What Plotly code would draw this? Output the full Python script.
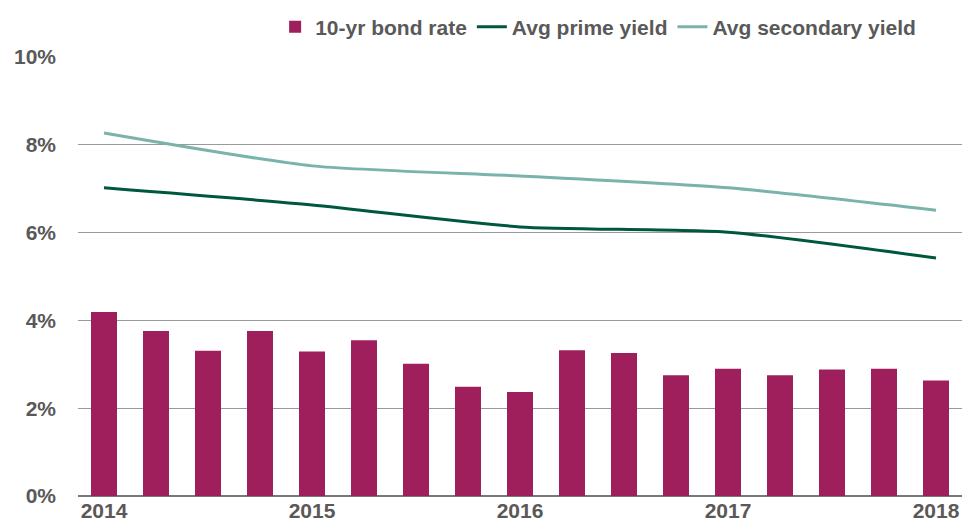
import plotly.graph_objects as go

quarters = list(range(17))
bond_rate = [4.19, 3.76, 3.31, 3.76, 3.29, 3.55, 3.01, 2.49, 2.37, 3.32, 3.26, 2.75, 2.90, 2.75, 2.88, 2.90, 2.63]
year_pos = [0, 4, 8, 12, 16]
year_labels = ["2014", "2015", "2016", "2017", "2018"]
prime_yield = [7.02, 6.63, 6.13, 6.01, 5.42]
secondary_yield = [8.27, 7.52, 7.29, 7.02, 6.51]
y_ticks = [0, 2, 4, 6, 8, 10]
y_labels = ["0%", "2%", "4%", "6%", "8%", "10%"]

font_family = "Liberation Sans, Arial, Helvetica, sans-serif"
grey = "#595959"

fig = go.Figure()
fig.add_trace(go.Bar(x=quarters, y=bond_rate, name="10-yr bond rate",
                     marker=dict(color="#9E1F5C", line=dict(width=0))))
fig.add_trace(go.Scatter(x=year_pos, y=prime_yield, name="Avg prime yield", mode="lines",
                         line=dict(color="#00573F", width=3, shape="spline", smoothing=0.6)))
fig.add_trace(go.Scatter(x=year_pos, y=secondary_yield, name="Avg secondary yield", mode="lines",
                         line=dict(color="#7AB3AA", width=3, shape="spline", smoothing=0.6)))

fig.update_layout(
    width=968, height=524,
    margin=dict(l=78, r=6, t=57, b=28, autoexpand=False),
    paper_bgcolor="white", plot_bgcolor="white",
    bargap=0.5,
    font=dict(family=font_family, color=grey, size=21, weight="bold"),
    legend=dict(orientation="h", x=0.223, xanchor="left", y=1.068, yanchor="middle",
                font=dict(family=font_family, size=21, color=grey, weight="bold"),
                traceorder="normal", itemwidth=30,
                bgcolor="rgba(0,0,0,0)"),
    xaxis=dict(range=[-0.5, 16.5], tickvals=year_pos, ticktext=year_labels,
               showgrid=False, zeroline=False, showline=False, ticks="",
               automargin=False, ticklabelstandoff=0,
               tickfont=dict(size=21, color=grey, weight="bold")),
    yaxis=dict(range=[0, 10], tickvals=y_ticks, ticktext=y_labels,
               showgrid=True, gridcolor="#9a9a9a", gridwidth=1,
               zeroline=True, zerolinecolor="#777777", zerolinewidth=1.5,
               showline=False, ticks="", ticklabelstandoff=21, automargin=False,
               tickfont=dict(size=21, color=grey, weight="bold")),
    showlegend=True,
)

fig.write_html("out.html")
